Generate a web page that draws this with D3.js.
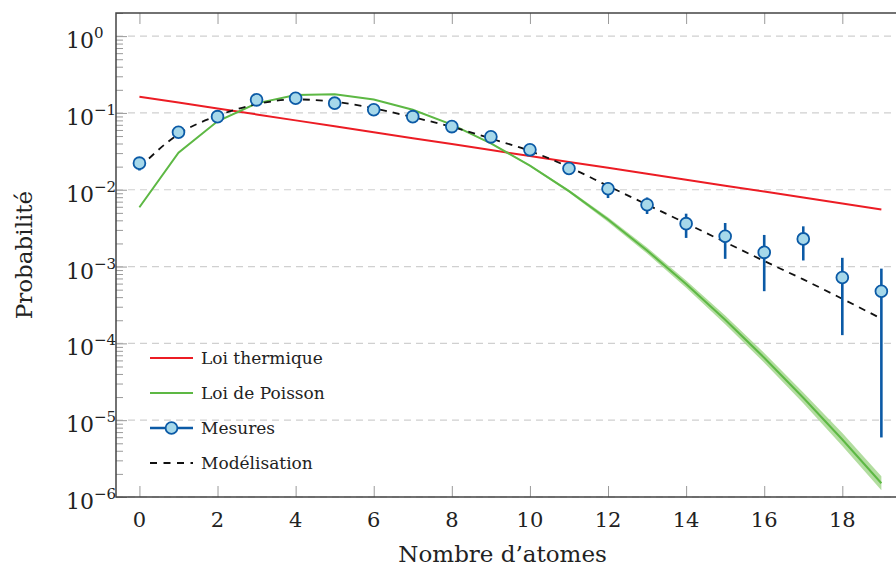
<!DOCTYPE html>
<html><head><meta charset="utf-8">
<script src="https://cdn.jsdelivr.net/npm/d3@7"></script>
<style>body{margin:0;background:#fff}svg{display:block}</style>
</head><body>
<svg id="c" width="896" height="567"></svg>
<script>
const atomes = [0,1,2,3,4,5,6,7,8,9,10,11,12,13,14,15,16,17,18,19];
const xTicks = [0,2,4,6,8,10,12,14,16,18];
const yDecades = [-6,-5,-4,-3,-2,-1,0];
const mesures = [0.0222,0.0561,0.0895,0.148,0.155,0.134,0.110,0.0895,0.0664,0.0488,0.0331,0.0189,0.0103,0.00638,0.00362,0.00248,0.00153,0.00229,0.00072,0.000478];
const errBas  = [0.0178,0.050,0.082,0.138,0.145,0.125,0.102,0.082,0.060,0.044,0.029,0.0157,0.0078,0.00483,0.00236,0.00126,0.000478,0.0012,0.000128,0.00000596];
const errHaut = [0.026,0.062,0.097,0.158,0.165,0.143,0.118,0.097,0.073,0.054,0.037,0.022,0.0126,0.00794,0.00488,0.00369,0.00258,0.00334,0.0013,0.00094];
const thermique = [0.163,0.1364,0.1142,0.0956,0.0800,0.0670,0.0560,0.0469,0.0393,0.0329,0.0275,0.0230,0.0193,0.0161,0.0135,0.0113,0.00946,0.00792,0.00663,0.00555];
const poisson = [0.00592,0.0304,0.0779,0.1333,0.1709,0.1753,0.1499,0.1099,0.0705,0.0402,0.0206,0.0096,0.0041,0.00162,0.000594,0.000203,6.51e-5,1.96e-5,5.6e-6,1.51e-6];
const poissonBas = [0.0058,0.0300,0.0770,0.1320,0.1695,0.1740,0.1487,0.1088,0.0697,0.0395,0.0201,0.0092,0.0038,0.00148,0.00053,0.000178,5.6e-5,1.66e-5,4.6e-6,1.22e-6];
const poissonHaut = [0.0060,0.0308,0.0788,0.1346,0.1723,0.1766,0.1511,0.1110,0.0713,0.0409,0.0211,0.0100,0.0044,0.00177,0.00066,0.000230,7.5e-5,2.3e-5,6.8e-6,1.86e-6];
const modele = [0.0195,0.053,0.092,0.130,0.150,0.140,0.115,0.088,0.066,0.0464,0.032,0.0197,0.0112,0.0064,0.00365,0.00208,0.00118,0.00068,0.00038,0.00021];

const FONT = "'DejaVu Serif', serif";
const svg = d3.select("#c");
const L = 116, T = 13, B = 497, R = 904.8;
const x = d3.scaleLinear().domain([-0.6, 19.6]).range([L, R]);
const y = d3.scaleLog().domain([1e-6, 2]).range([B, T]);

const RED = "#ec1c24", GREEN = "#5db844", BLUE = "#0b5aa6", LBLUE = "#a6d8ea";

// grid
svg.append("g").selectAll("line").data(yDecades).join("line")
  .attr("x1", L).attr("x2", R).attr("y1", d => y(Math.pow(10, d))).attr("y2", d => y(Math.pow(10, d)))
  .attr("stroke", "#d0d0d0").attr("stroke-width", 1.2).attr("stroke-dasharray", "7,5");

// minor y ticks
const minor = [];
for (let e = -6; e <= 0; e++) for (let m = 2; m <= 9; m++) { const v = m * Math.pow(10, e); if (v <= 2) minor.push(v); }
const gy = svg.append("g").attr("transform", `translate(${L},0)`);
gy.call(d3.axisLeft(y).tickValues(minor).tickSize(-7).tickFormat(""));
gy.call(g => g.select(".domain").remove());
gy.selectAll("line").attr("stroke", "#9a9a9a").attr("stroke-width", 1);
const gy2 = svg.append("g").attr("transform", `translate(${L},0)`);
gy2.call(d3.axisLeft(y).tickValues(yDecades.map(d => Math.pow(10, d))).tickSize(-11).tickFormat(""));
gy2.call(g => g.select(".domain").remove());
gy2.selectAll("line").attr("stroke", "#9a9a9a").attr("stroke-width", 1);

// x ticks bottom & top
const gxb = svg.append("g").attr("transform", `translate(0,${B})`);
gxb.call(d3.axisBottom(x).tickValues(xTicks).tickSize(-11).tickFormat(""));
gxb.call(g => g.select(".domain").remove());
gxb.selectAll("line").attr("stroke", "#9a9a9a");
const gxt = svg.append("g").attr("transform", `translate(0,${T})`);
gxt.call(d3.axisTop(x).tickValues(xTicks).tickSize(-11).tickFormat(""));
gxt.call(g => g.select(".domain").remove());
gxt.selectAll("line").attr("stroke", "#9a9a9a");

// frame
svg.append("path").attr("d", `M${R},${T}H${L}V${B}H${R}`).attr("fill", "none").attr("stroke", "#444").attr("stroke-width", 1.5);

// tick labels
svg.append("g").selectAll("text").data(xTicks).join("text")
  .attr("x", d => x(d)).attr("y", 527).attr("text-anchor", "middle")
  .attr("font-family", FONT).attr("font-size", 21).attr("fill", "#222").text(d => d);
const yl = svg.append("g").selectAll("text").data(yDecades).join("text")
  .attr("x", 66).attr("y", d => y(Math.pow(10, d)) + 12)
  .attr("font-family", FONT).attr("font-size", 22).attr("fill", "#222");
yl.append("tspan").text("10");
yl.append("tspan").attr("dy", -10).attr("font-size", 15).text(d => d === 0 ? "0" : "\u2212" + Math.abs(d));

// axis titles
svg.append("text").attr("x", x(9.3)).attr("y", 562).attr("text-anchor", "middle")
  .attr("font-family", FONT).attr("font-size", 23).attr("fill", "#222").text("Nombre d\u2019atomes");
svg.append("text").attr("transform", "translate(32,255) rotate(-90)").attr("text-anchor", "middle")
  .attr("font-family", FONT).attr("font-size", 23).attr("fill", "#222").text("Probabilité");

const plot = svg.append("g");
// poisson band
plot.append("path").datum(atomes)
  .attr("d", d3.area().x(i => x(i)).y0(i => y(poissonBas[i])).y1(i => y(poissonHaut[i])))
  .attr("fill", "#a5d78e").attr("opacity", 0.85);
// thermique
plot.append("path").datum(atomes).attr("d", d3.line().x(i => x(i)).y(i => y(thermique[i])))
  .attr("fill", "none").attr("stroke", RED).attr("stroke-width", 2);
// poisson
plot.append("path").datum(atomes).attr("d", d3.line().x(i => x(i)).y(i => y(poisson[i])))
  .attr("fill", "none").attr("stroke", GREEN).attr("stroke-width", 2);
// modele
plot.append("path").datum(atomes).attr("d", d3.line().curve(d3.curveMonotoneX).x(i => x(i)).y(i => y(modele[i])))
  .attr("fill", "none").attr("stroke", "#111").attr("stroke-width", 1.8).attr("stroke-dasharray", "7,6");
// error bars
plot.append("g").selectAll("line").data(atomes).join("line")
  .attr("x1", i => x(i)).attr("x2", i => x(i)).attr("y1", i => y(errBas[i])).attr("y2", i => y(errHaut[i]))
  .attr("stroke", BLUE).attr("stroke-width", 2.6);
// points
plot.append("g").selectAll("circle").data(atomes).join("circle")
  .attr("cx", i => x(i)).attr("cy", i => y(mesures[i])).attr("r", 5.9)
  .attr("fill", LBLUE).attr("stroke", BLUE).attr("stroke-width", 1.8);

// legend
const leg = [
  {label: "Loi thermique", type: "red"},
  {label: "Loi de Poisson", type: "green"},
  {label: "Mesures", type: "mes"},
  {label: "Modélisation", type: "mod"}
];
const lg = svg.append("g");
const rowsY = [358, 393, 428, 463];
leg.forEach((d, k) => {
  const yy = rowsY[k];
  const ln = lg.append("line").attr("x1", 150).attr("x2", 193).attr("y1", yy).attr("y2", yy);
  if (d.type === "red") ln.attr("stroke", RED).attr("stroke-width", 1.8);
  if (d.type === "green") ln.attr("stroke", GREEN).attr("stroke-width", 1.8);
  if (d.type === "mes") {
    ln.attr("stroke", BLUE).attr("stroke-width", 2.4);
    lg.append("circle").attr("cx", 171.5).attr("cy", yy).attr("r", 5.9).attr("fill", LBLUE).attr("stroke", BLUE).attr("stroke-width", 1.8);
  }
  if (d.type === "mod") ln.attr("stroke", "#111").attr("stroke-width", 1.8).attr("stroke-dasharray", "7,6.5");
  lg.append("text").attr("x", 201).attr("y", yy + 6).attr("font-family", FONT).attr("font-size", 17)
    .attr("fill", "#222").text(d.label);
});
</script>
</body></html>
